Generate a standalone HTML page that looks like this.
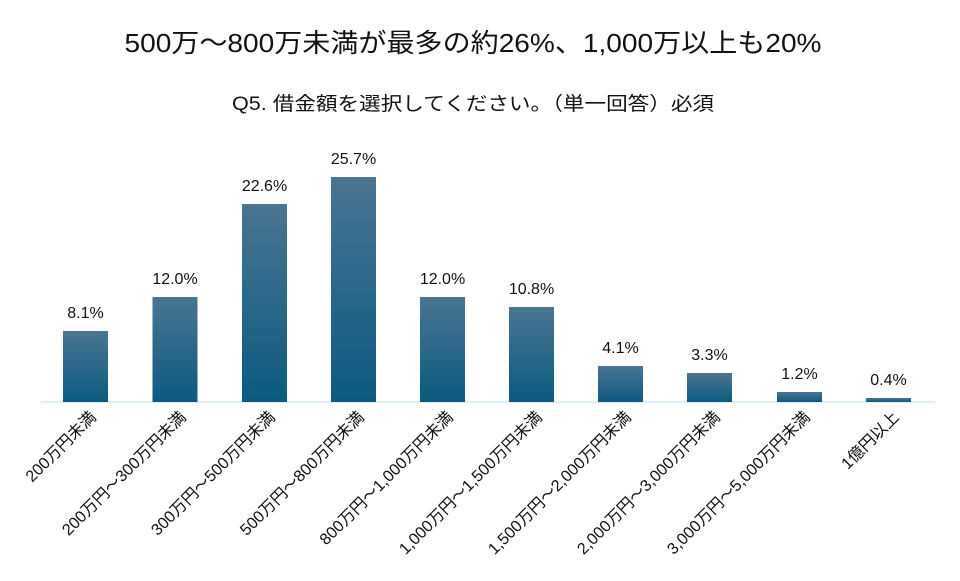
<!DOCTYPE html>
<html><head><meta charset="utf-8"><style>
html,body{margin:0;padding:0;background:#fff;}
svg{display:block;font-family:"Liberation Sans","Noto Sans CJK JP",sans-serif;}
</style></head><body>
<svg width="960" height="581" viewBox="0 0 960 581">
<defs><linearGradient id="g" x1="0" y1="0" x2="0" y2="1">
<stop offset="0" stop-color="#4a7592"/><stop offset="1" stop-color="#0b5a80"/></linearGradient></defs>
<text x="473" y="52" font-size="26" text-anchor="middle" fill="#111" textLength="697" lengthAdjust="spacingAndGlyphs">500万～800万未満が最多の約26%、1,000万以上も20%</text>
<text x="473" y="110" font-size="19" text-anchor="middle" fill="#111" textLength="482" lengthAdjust="spacingAndGlyphs">Q5. 借金額を選択してください。（単一回答）必須</text>
<line x1="41" y1="402" x2="935" y2="402" stroke="#c5dcf0" stroke-width="1"/>
<g fill="url(#g)">
<rect x="63" y="331" width="45" height="71"/>
<rect x="152.5" y="297" width="45" height="105"/>
<rect x="242" y="204" width="45" height="198"/>
<rect x="331" y="177" width="45" height="225"/>
<rect x="420" y="297" width="45" height="105"/>
<rect x="509" y="307" width="45" height="95"/>
<rect x="598" y="366" width="45" height="36"/>
<rect x="687" y="373" width="45" height="29"/>
<rect x="777" y="392" width="45" height="10"/>
<rect x="866" y="398" width="45" height="4"/>
</g>
<g font-size="16" text-anchor="middle" fill="#111">
<text x="85.5" y="318">8.1%</text>
<text x="175" y="284">12.0%</text>
<text x="264.5" y="191">22.6%</text>
<text x="353.5" y="164">25.7%</text>
<text x="442.5" y="284">12.0%</text>
<text x="531.5" y="294">10.8%</text>
<text x="620.5" y="353">4.1%</text>
<text x="709.5" y="360">3.3%</text>
<text x="799.5" y="379">1.2%</text>
<text x="888.5" y="385">0.4%</text>
</g>
<g font-size="16.2" text-anchor="end" fill="#111">
<text transform="translate(97,418) rotate(-45)">200万円未満</text>
<text transform="translate(187,418) rotate(-45)">200万円～300万円未満</text>
<text transform="translate(276,418) rotate(-45)">300万円～500万円未満</text>
<text transform="translate(365,418) rotate(-45)">500万円～800万円未満</text>
<text transform="translate(454,418) rotate(-45)">800万円～1,000万円未満</text>
<text transform="translate(543,418) rotate(-45)">1,000万円～1,500万円未満</text>
<text transform="translate(632,418) rotate(-45)">1,500万円～2,000万円未満</text>
<text transform="translate(721,418) rotate(-45)">2,000万円～3,000万円未満</text>
<text transform="translate(811,418) rotate(-45)">3,000万円～5,000万円未満</text>
<text transform="translate(900,418) rotate(-45)">1億円以上</text>
</g>
</svg>
</body></html>
